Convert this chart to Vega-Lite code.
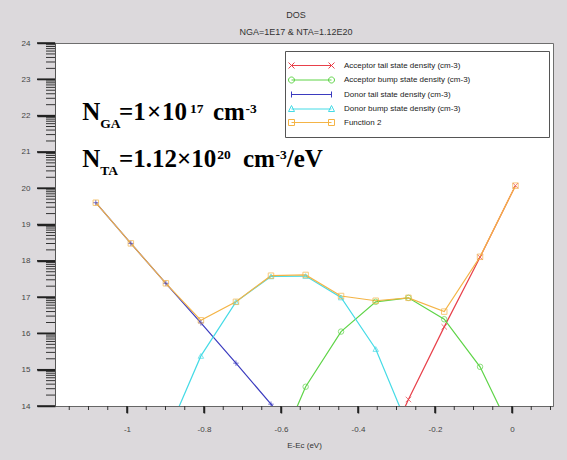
{
  "$schema": "https://vega.github.io/schema/vega-lite/v6.json",
  "width": 498,
  "height": 363,
  "autosize": {"type": "none"},
  "padding": {"left": 55, "top": 43, "right": 14, "bottom": 54},
  "background": "#dcd9dc",
  "view": {"fill": "white", "stroke": "#6e6e6e", "strokeWidth": 1},
  "title": {
    "text": "DOS",
    "subtitle": "NGA=1E17 & NTA=1.12E20",
    "anchor": "middle",
    "dx": -8,
    "offset": 2,
    "font": "Liberation Sans",
    "fontSize": 9,
    "fontWeight": "normal",
    "color": "#333333",
    "subtitleFont": "Liberation Sans",
    "subtitleFontSize": 9,
    "subtitleColor": "#333333",
    "subtitlePadding": 8
  },
  "datasets": {
    "dos": [
      {"series": "Acceptor tail state density (cm-3)", "e": -0.354, "logn": 12.22},
      {"series": "Acceptor tail state density (cm-3)", "e": -0.269, "logn": 14.18},
      {"series": "Acceptor tail state density (cm-3)", "e": -0.176, "logn": 16.18},
      {"series": "Acceptor tail state density (cm-3)", "e": -0.083, "logn": 18.10},
      {"series": "Acceptor tail state density (cm-3)", "e": 0.009, "logn": 20.07},

      {"series": "Acceptor bump state density (cm-3)", "e": -0.626, "logn": 12.31},
      {"series": "Acceptor bump state density (cm-3)", "e": -0.536, "logn": 14.53},
      {"series": "Acceptor bump state density (cm-3)", "e": -0.444, "logn": 16.05},
      {"series": "Acceptor bump state density (cm-3)", "e": -0.354, "logn": 16.87},
      {"series": "Acceptor bump state density (cm-3)", "e": -0.269, "logn": 16.98},
      {"series": "Acceptor bump state density (cm-3)", "e": -0.176, "logn": 16.39},
      {"series": "Acceptor bump state density (cm-3)", "e": -0.083, "logn": 15.08},
      {"series": "Acceptor bump state density (cm-3)", "e": 0.009, "logn": 13.06},

      {"series": "Donor tail state density (cm-3)", "e": -1.081, "logn": 19.60},
      {"series": "Donor tail state density (cm-3)", "e": -0.990, "logn": 18.48},
      {"series": "Donor tail state density (cm-3)", "e": -0.899, "logn": 17.38},
      {"series": "Donor tail state density (cm-3)", "e": -0.808, "logn": 16.29},
      {"series": "Donor tail state density (cm-3)", "e": -0.717, "logn": 15.18},
      {"series": "Donor tail state density (cm-3)", "e": -0.626, "logn": 14.05},
      {"series": "Donor tail state density (cm-3)", "e": -0.536, "logn": 12.90},

      {"series": "Donor bump state density (cm-3)", "e": -0.899, "logn": 13.14},
      {"series": "Donor bump state density (cm-3)", "e": -0.808, "logn": 15.38},
      {"series": "Donor bump state density (cm-3)", "e": -0.717, "logn": 16.87},
      {"series": "Donor bump state density (cm-3)", "e": -0.626, "logn": 17.57},
      {"series": "Donor bump state density (cm-3)", "e": -0.536, "logn": 17.58},
      {"series": "Donor bump state density (cm-3)", "e": -0.444, "logn": 16.99},
      {"series": "Donor bump state density (cm-3)", "e": -0.354, "logn": 15.57},
      {"series": "Donor bump state density (cm-3)", "e": -0.269, "logn": 13.40},

      {"series": "Function 2", "e": -1.081, "logn": 19.60},
      {"series": "Function 2", "e": -0.990, "logn": 18.48},
      {"series": "Function 2", "e": -0.899, "logn": 17.38},
      {"series": "Function 2", "e": -0.808, "logn": 16.36},
      {"series": "Function 2", "e": -0.717, "logn": 16.87},
      {"series": "Function 2", "e": -0.626, "logn": 17.59},
      {"series": "Function 2", "e": -0.536, "logn": 17.61},
      {"series": "Function 2", "e": -0.444, "logn": 17.03},
      {"series": "Function 2", "e": -0.354, "logn": 16.90},
      {"series": "Function 2", "e": -0.269, "logn": 16.98},
      {"series": "Function 2", "e": -0.176, "logn": 16.60},
      {"series": "Function 2", "e": -0.083, "logn": 18.11},
      {"series": "Function 2", "e": 0.009, "logn": 20.07}
    ],
    "notes": [
      {"t": "N", "e": -1.1161, "logn": 21.879, "role": "base"},
      {"t": "GA", "e": -1.0694, "logn": 21.658, "role": "script"},
      {"t": "=1", "e": -1.0208, "logn": 21.879, "role": "base"},
      {"t": "×", "e": -0.9481, "logn": 21.879, "role": "base"},
      {"t": "10", "e": -0.9091, "logn": 21.879, "role": "base"},
      {"t": "17", "e": -0.8364, "logn": 22.085, "role": "script"},
      {"t": "cm", "e": -0.7766, "logn": 21.879, "role": "base"},
      {"t": "-3", "e": -0.6922, "logn": 22.085, "role": "script"},

      {"t": "N", "e": -1.1161, "logn": 20.592, "role": "base"},
      {"t": "TA", "e": -1.0694, "logn": 20.377, "role": "script"},
      {"t": "=1.12×10", "e": -1.0208, "logn": 20.592, "role": "base"},
      {"t": "20", "e": -0.7655, "logn": 20.804, "role": "script"},
      {"t": "cm", "e": -0.6987, "logn": 20.592, "role": "base"},
      {"t": "-3", "e": -0.6143, "logn": 20.804, "role": "script"},
      {"t": "/eV", "e": -0.5852, "logn": 20.592, "role": "base"}
    ],
    "xticks": [
      {"e": -1.15, "kind": "minor"}, {"e": -1.1, "kind": "minor"}, {"e": -1.05, "kind": "minor"},
      {"e": -1, "kind": "major"},
      {"e": -0.95, "kind": "minor"}, {"e": -0.9, "kind": "minor"}, {"e": -0.85, "kind": "minor"},
      {"e": -0.8, "kind": "major"},
      {"e": -0.75, "kind": "minor"}, {"e": -0.7, "kind": "minor"}, {"e": -0.65, "kind": "minor"},
      {"e": -0.6, "kind": "major"},
      {"e": -0.55, "kind": "minor"}, {"e": -0.5, "kind": "minor"}, {"e": -0.45, "kind": "minor"},
      {"e": -0.4, "kind": "major"},
      {"e": -0.35, "kind": "minor"}, {"e": -0.3, "kind": "minor"}, {"e": -0.25, "kind": "minor"},
      {"e": -0.2, "kind": "major"},
      {"e": -0.15, "kind": "minor"}, {"e": -0.1, "kind": "minor"}, {"e": -0.05, "kind": "minor"},
      {"e": 0, "kind": "major"},
      {"e": 0.05, "kind": "minor"}, {"e": 0.1, "kind": "minor"}
    ],
    "yticks": [
      {"logn": 14, "kind": "major"}, {"logn": 15, "kind": "major"}, {"logn": 16, "kind": "major"},
      {"logn": 17, "kind": "major"}, {"logn": 18, "kind": "major"}, {"logn": 19, "kind": "major"},
      {"logn": 20, "kind": "major"}, {"logn": 21, "kind": "major"}, {"logn": 22, "kind": "major"},
      {"logn": 23, "kind": "major"}, {"logn": 24, "kind": "major"},
      {"logn": 14.301, "kind": "minor"}, {"logn": 14.477, "kind": "minor"}, {"logn": 14.602, "kind": "minor"}, {"logn": 14.699, "kind": "minor"},
      {"logn": 14.778, "kind": "minor"}, {"logn": 14.845, "kind": "minor"}, {"logn": 14.903, "kind": "minor"}, {"logn": 14.954, "kind": "minor"},
      {"logn": 15.301, "kind": "minor"}, {"logn": 15.477, "kind": "minor"}, {"logn": 15.602, "kind": "minor"}, {"logn": 15.699, "kind": "minor"},
      {"logn": 15.778, "kind": "minor"}, {"logn": 15.845, "kind": "minor"}, {"logn": 15.903, "kind": "minor"}, {"logn": 15.954, "kind": "minor"},
      {"logn": 16.301, "kind": "minor"}, {"logn": 16.477, "kind": "minor"}, {"logn": 16.602, "kind": "minor"}, {"logn": 16.699, "kind": "minor"},
      {"logn": 16.778, "kind": "minor"}, {"logn": 16.845, "kind": "minor"}, {"logn": 16.903, "kind": "minor"}, {"logn": 16.954, "kind": "minor"},
      {"logn": 17.301, "kind": "minor"}, {"logn": 17.477, "kind": "minor"}, {"logn": 17.602, "kind": "minor"}, {"logn": 17.699, "kind": "minor"},
      {"logn": 17.778, "kind": "minor"}, {"logn": 17.845, "kind": "minor"}, {"logn": 17.903, "kind": "minor"}, {"logn": 17.954, "kind": "minor"},
      {"logn": 18.301, "kind": "minor"}, {"logn": 18.477, "kind": "minor"}, {"logn": 18.602, "kind": "minor"}, {"logn": 18.699, "kind": "minor"},
      {"logn": 18.778, "kind": "minor"}, {"logn": 18.845, "kind": "minor"}, {"logn": 18.903, "kind": "minor"}, {"logn": 18.954, "kind": "minor"},
      {"logn": 19.301, "kind": "minor"}, {"logn": 19.477, "kind": "minor"}, {"logn": 19.602, "kind": "minor"}, {"logn": 19.699, "kind": "minor"},
      {"logn": 19.778, "kind": "minor"}, {"logn": 19.845, "kind": "minor"}, {"logn": 19.903, "kind": "minor"}, {"logn": 19.954, "kind": "minor"},
      {"logn": 20.301, "kind": "minor"}, {"logn": 20.477, "kind": "minor"}, {"logn": 20.602, "kind": "minor"}, {"logn": 20.699, "kind": "minor"},
      {"logn": 20.778, "kind": "minor"}, {"logn": 20.845, "kind": "minor"}, {"logn": 20.903, "kind": "minor"}, {"logn": 20.954, "kind": "minor"},
      {"logn": 21.301, "kind": "minor"}, {"logn": 21.477, "kind": "minor"}, {"logn": 21.602, "kind": "minor"}, {"logn": 21.699, "kind": "minor"},
      {"logn": 21.778, "kind": "minor"}, {"logn": 21.845, "kind": "minor"}, {"logn": 21.903, "kind": "minor"}, {"logn": 21.954, "kind": "minor"},
      {"logn": 22.301, "kind": "minor"}, {"logn": 22.477, "kind": "minor"}, {"logn": 22.602, "kind": "minor"}, {"logn": 22.699, "kind": "minor"},
      {"logn": 22.778, "kind": "minor"}, {"logn": 22.845, "kind": "minor"}, {"logn": 22.903, "kind": "minor"}, {"logn": 22.954, "kind": "minor"},
      {"logn": 23.301, "kind": "minor"}, {"logn": 23.477, "kind": "minor"}, {"logn": 23.602, "kind": "minor"}, {"logn": 23.699, "kind": "minor"},
      {"logn": 23.778, "kind": "minor"}, {"logn": 23.845, "kind": "minor"}, {"logn": 23.903, "kind": "minor"}, {"logn": 23.954, "kind": "minor"}
    ]
  },
  "layer": [
    {
      "data": {"name": "dos"},
      "mark": {"type": "point", "filled": false, "opacity": 0, "clip": true},
      "encoding": {
        "x": {
          "field": "e",
          "type": "quantitative",
          "scale": {"domain": [-1.187, 0.1065], "nice": false, "zero": false},
          "axis": {
            "orient": "bottom",
            "title": "E-Ec (eV)",
            "values": [-1, -0.8, -0.6, -0.4, -0.2, 0],
            "labelExpr": "'' + datum.value",
            "tickSize": 7,
            "tickWidth": 1.5,
            "tickColor": "#222222",
            "grid": false,
            "domainColor": "#666666",
            "labelFont": "Liberation Sans",
            "labelFontSize": 8,
            "labelColor": "#444444",
            "labelPadding": 12,
            "labelOverlap": false,
            "labelFlush": false,
            "titleFont": "Liberation Sans",
            "titleFontSize": 8,
            "titleFontWeight": "normal",
            "titleColor": "#333333",
            "titlePadding": 8
          }
        },
        "y": {
          "field": "logn",
          "type": "quantitative",
          "scale": {"domain": [14, 24], "nice": false, "zero": false},
          "axis": {
            "orient": "left",
            "title": null,
            "values": [14, 15, 16, 17, 18, 19, 20, 21, 22, 23, 24],
            "labelExpr": "'' + datum.value",
            "tickSize": 18,
            "tickWidth": 1.5,
            "tickColor": "#222222",
            "grid": false,
            "domainColor": "#555555",
            "labelFont": "Liberation Sans",
            "labelFontSize": 8,
            "labelColor": "#444444",
            "labelPadding": 7,
            "labelOverlap": false,
            "labelFlush": false
          }
        },
        "color": {
          "field": "series",
          "type": "nominal",
          "scale": {
            "domain": ["Acceptor tail state density (cm-3)", "Acceptor bump state density (cm-3)", "Donor tail state density (cm-3)", "Donor bump state density (cm-3)", "Function 2"],
            "range": ["#e8404a", "#5ed447", "#3b3bbf", "#45dbe6", "#f4b446"]
          },
          "legend": {
            "orient": "none",
            "legendX": 230,
            "legendY": 8,
            "title": "series",
            "titleOrient": "right",
            "titleOpacity": 0,
            "titleFont": "Liberation Sans",
            "titleFontSize": 8,
            "titlePadding": 46,
            "labelFont": "Liberation Sans",
            "labelFontSize": 8,
            "labelColor": "#222222",
            "labelLimit": 400,
            "symbolSize": 100,
            "symbolStrokeWidth": 1,
            "symbolOpacity": 1,
            "symbolFillColor": "transparent",
            "symbolOffset": 12,
            "labelOffset": 27,
            "padding": 9,
            "rowPadding": 3.5,
            "strokeColor": "#555555",
            "fillColor": "white"
          }
        },
        "shape": {
          "field": "series",
          "type": "nominal",
          "scale": {
            "domain": ["Acceptor tail state density (cm-3)", "Acceptor bump state density (cm-3)", "Donor tail state density (cm-3)", "Donor bump state density (cm-3)", "Function 2"],
            "range": [
              "M-4,0H4M-4.6,-0.6L-3.4,0.6M-4.6,0.6L-3.4,-0.6M3.4,-0.6L4.6,0.6M3.4,0.6L4.6,-0.6",
              "M-4,0H4M-3.4,0A0.6,0.6 0 1 1 -4.6,0A0.6,0.6 0 1 1 -3.4,0M4.6,0A0.6,0.6 0 1 1 3.4,0A0.6,0.6 0 1 1 4.6,0",
              "M-4,0H4M-4,-0.6V0.6M4,-0.6V0.6",
              "M-4,0H4M-4,-0.7L-3.4,0.5H-4.6ZM4,-0.7L4.6,0.5H3.4Z",
              "M-4,0H4M-4.6,-0.6H-3.4V0.6H-4.6ZM3.4,-0.6H4.6V0.6H3.4Z"
            ]
          }
        }
      }
    },
    {
      "data": {"name": "xticks"},
      "transform": [{"filter": "datum.kind === 'major'"}],
      "mark": {"type": "tick", "orient": "vertical", "size": 7, "thickness": 1.5, "yOffset": 3.5, "color": "#222222", "opacity": 1, "clip": false},
      "encoding": {
        "x": {"field": "e", "type": "quantitative", "axis": null},
        "y": {"datum": 14, "type": "quantitative", "axis": null}
      }
    },
    {
      "data": {"name": "xticks"},
      "transform": [{"filter": "datum.kind === 'minor'"}],
      "mark": {"type": "tick", "orient": "vertical", "size": 4, "thickness": 1, "yOffset": 2, "color": "#333333", "opacity": 1, "clip": false},
      "encoding": {
        "x": {"field": "e", "type": "quantitative", "axis": null},
        "y": {"datum": 14, "type": "quantitative", "axis": null}
      }
    },
    {
      "data": {"name": "yticks"},
      "transform": [{"filter": "datum.kind === 'major'"}],
      "mark": {"type": "tick", "orient": "horizontal", "size": 18, "thickness": 1.5, "xOffset": -9, "color": "#222222", "opacity": 1, "clip": false},
      "encoding": {
        "x": {"datum": -1.187, "type": "quantitative", "axis": null},
        "y": {"field": "logn", "type": "quantitative", "axis": null}
      }
    },
    {
      "data": {"name": "yticks"},
      "transform": [{"filter": "datum.kind === 'minor'"}],
      "mark": {"type": "tick", "orient": "horizontal", "size": 9, "thickness": 1, "xOffset": -4.5, "color": "#333333", "opacity": 1, "clip": false},
      "encoding": {
        "x": {"datum": -1.187, "type": "quantitative", "axis": null},
        "y": {"field": "logn", "type": "quantitative", "axis": null}
      }
    },
    {
      "data": {"name": "dos"},
      "mark": {"type": "line", "strokeWidth": 1.2, "clip": true},
      "encoding": {
        "x": {"field": "e", "type": "quantitative", "axis": null},
        "y": {"field": "logn", "type": "quantitative", "axis": null},
        "color": {"field": "series", "type": "nominal"},
        "detail": {"field": "series"}
      }
    },
    {
      "data": {"name": "dos"},
      "transform": [{"filter": "datum.series === 'Acceptor tail state density (cm-3)'"}],
      "mark": {"type": "point", "shape": "M-1,-1L1,1M-1,1L1,-1", "filled": false, "size": 30, "strokeWidth": 1, "clip": true},
      "encoding": {
        "x": {"field": "e", "type": "quantitative", "axis": null},
        "y": {"field": "logn", "type": "quantitative", "axis": null},
        "color": {"field": "series", "type": "nominal"}
      }
    },
    {
      "data": {"name": "dos"},
      "transform": [{"filter": "datum.series === 'Acceptor bump state density (cm-3)'"}],
      "mark": {"type": "point", "shape": "circle", "filled": false, "size": 30, "strokeWidth": 1, "clip": true},
      "encoding": {
        "x": {"field": "e", "type": "quantitative", "axis": null},
        "y": {"field": "logn", "type": "quantitative", "axis": null},
        "color": {"field": "series", "type": "nominal"}
      }
    },
    {
      "data": {"name": "dos"},
      "transform": [{"filter": "datum.series === 'Donor tail state density (cm-3)'"}],
      "mark": {"type": "point", "shape": "M-1,0H1M0,-1V1", "filled": false, "size": 30, "strokeWidth": 1, "clip": true},
      "encoding": {
        "x": {"field": "e", "type": "quantitative", "axis": null},
        "y": {"field": "logn", "type": "quantitative", "axis": null},
        "color": {"field": "series", "type": "nominal"}
      }
    },
    {
      "data": {"name": "dos"},
      "transform": [{"filter": "datum.series === 'Donor bump state density (cm-3)'"}],
      "mark": {"type": "point", "shape": "triangle-up", "filled": false, "size": 30, "strokeWidth": 1, "clip": true},
      "encoding": {
        "x": {"field": "e", "type": "quantitative", "axis": null},
        "y": {"field": "logn", "type": "quantitative", "axis": null},
        "color": {"field": "series", "type": "nominal"}
      }
    },
    {
      "data": {"name": "dos"},
      "transform": [{"filter": "datum.series === 'Function 2'"}],
      "mark": {"type": "point", "shape": "square", "filled": false, "size": 30, "strokeWidth": 1, "clip": true},
      "encoding": {
        "x": {"field": "e", "type": "quantitative", "axis": null},
        "y": {"field": "logn", "type": "quantitative", "axis": null},
        "color": {"field": "series", "type": "nominal"}
      }
    },
    {
      "data": {"name": "notes"},
      "transform": [{"filter": "datum.role === 'base'"}],
      "mark": {"type": "text", "font": "Liberation Serif", "fontWeight": "bold", "fontSize": 25, "align": "left", "baseline": "alphabetic", "color": "black"},
      "encoding": {
        "x": {"field": "e", "type": "quantitative", "axis": null},
        "y": {"field": "logn", "type": "quantitative", "axis": null},
        "text": {"field": "t"}
      }
    },
    {
      "data": {"name": "notes"},
      "transform": [{"filter": "datum.role === 'script'"}],
      "mark": {"type": "text", "font": "Liberation Serif", "fontWeight": "bold", "fontSize": 13.5, "align": "left", "baseline": "alphabetic", "color": "black"},
      "encoding": {
        "x": {"field": "e", "type": "quantitative", "axis": null},
        "y": {"field": "logn", "type": "quantitative", "axis": null},
        "text": {"field": "t"}
      }
    }
  ],
  "resolve": {
    "axis": {"x": "independent", "y": "independent"}
  }
}
